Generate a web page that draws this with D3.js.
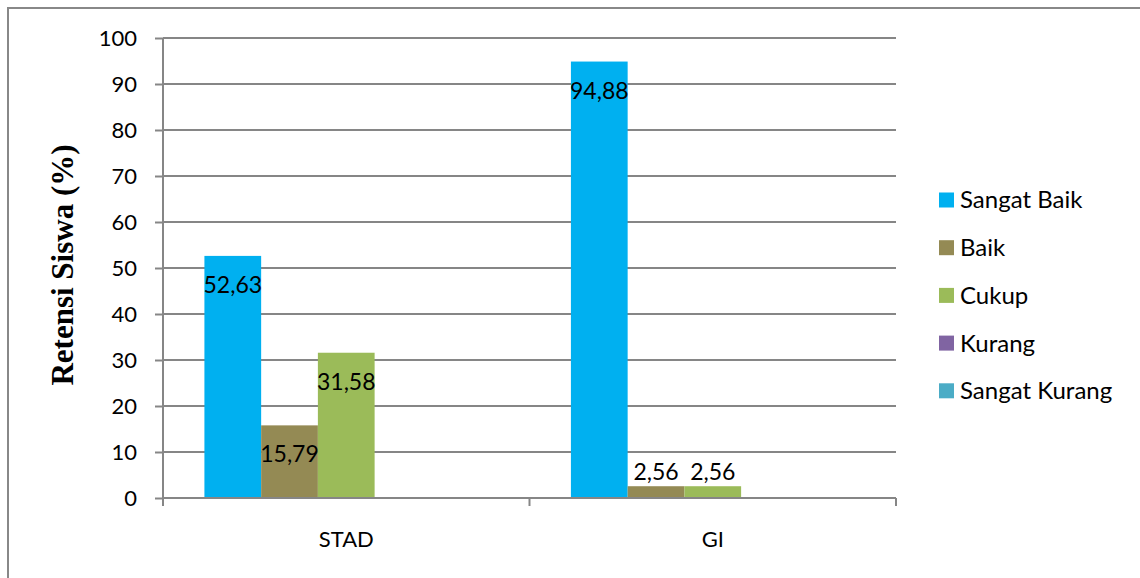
<!DOCTYPE html>
<html>
<head>
<meta charset="utf-8">
<style>
  body { margin: 0; background: #fff; }
  text { font-family: Lato, "Noto Sans", sans-serif; fill: #000; }
</style>
</head>
<body>
<script src="https://cdn.jsdelivr.net/npm/d3@7/dist/d3.min.js"></script>
<script>
// data
var groups = ["STAD", "GI"];
var series = ["Sangat Baik", "Baik", "Cukup", "Kurang", "Sangat Kurang"];
var colors = ["#00B0F0", "#948A54", "#9BBB59", "#8064A2", "#4BACC6"];
var stadValues = [52.63, 15.79, 31.58, 0, 0];
var giValues = [94.88, 2.56, 2.56, 0, 0];
var yTicks = [0, 10, 20, 30, 40, 50, 60, 70, 80, 90, 100];

var width = 1140, height = 578;
var svg = d3.select("body").append("svg")
    .attr("width", width)
    .attr("height", height);

// outer frame (cut off at right and bottom like the picture)
svg.append("rect")
    .attr("x", 8).attr("y", 8)
    .attr("width", width + 10).attr("height", height + 10)
    .attr("fill", "none")
    .attr("stroke", "#888")
    .attr("stroke-width", 2);

var pLeft = 163, pRight = 896, pTop = 38, pBottom = 498;

var x0 = d3.scaleBand().domain(groups).range([pLeft, pRight]).paddingInner(0).paddingOuter(0);
var x1 = d3.scaleBand().domain(series).padding(0);
var y = d3.scaleLinear().domain([0, 100]).range([pBottom, pTop]);

// group width: gap of ~146% of one bar
var gap = x0.bandwidth() - x0.bandwidth() / (5 + 1.46) * 5;
x1.range([gap / 2, x0.bandwidth() - gap / 2]);

// gridlines
svg.append("g").selectAll("line")
    .data(yTicks.filter(d => d > 0))
    .join("line")
    .attr("x1", pLeft).attr("x2", pRight)
    .attr("y1", d => y(d)).attr("y2", d => y(d))
    .attr("stroke", "#868686")
    .attr("stroke-width", 2);

// y axis
var yAxis = svg.append("g")
    .attr("transform", "translate(" + pLeft + ",0)")
    .call(d3.axisLeft(y).tickValues(yTicks).tickSize(8).tickPadding(18));
yAxis.select(".domain").attr("stroke", "#868686").attr("stroke-width", 2)
    .attr("d", "M0," + (pBottom + 8) + "V" + pTop);
yAxis.selectAll(".tick line").attr("stroke", "#868686").attr("stroke-width", 2);
yAxis.selectAll(".tick text").style("font-family", "Lato, sans-serif").style("font-size", "22px").attr("fill", "#000");

// bars
var rows = groups.map((g, i) => ({ group: g, values: i === 0 ? stadValues : giValues }));
var gBars = svg.append("g").selectAll("g")
    .data(rows)
    .join("g")
    .attr("transform", d => "translate(" + x0(d.group) + ",0)");

gBars.selectAll("rect")
    .data(d => d.values.map((v, j) => ({ key: series[j], value: v, color: colors[j] })))
    .join("rect")
    .attr("x", d => x1(d.key))
    .attr("width", x1.bandwidth())
    .attr("y", d => y(d.value))
    .attr("height", d => pBottom - y(d.value))
    .attr("fill", d => d.color);

// data labels
gBars.selectAll("text")
    .data(d => d.values.map((v, j) => ({ key: series[j], value: v })).filter(d => d.value > 0))
    .join("text")
    .attr("x", d => x1(d.key) + x1.bandwidth() / 2)
    .attr("y", d => (pBottom - y(d.value) > 40 ? y(d.value) + 29 : y(d.value) - 14))
    .attr("dy", "0.35em")
    .attr("text-anchor", "middle")
    .style("font-size", "23px")
    .text(d => d3.format(".2f")(d.value).replace(".", ","));

// x axis
var xAxis = svg.append("g")
    .attr("transform", "translate(0," + pBottom + ")")
    .call(d3.axisBottom(x0).tickSize(0).tickPadding(33));
xAxis.select(".domain").attr("stroke", "#868686").attr("stroke-width", 2)
    .attr("d", "M" + pLeft + ",0H" + pRight);
xAxis.selectAll(".tick text").style("font-family", "Lato, sans-serif").style("font-size", "22px").attr("fill", "#000");
// category separators
svg.append("g").selectAll("line")
    .data([pLeft, pLeft + x0.bandwidth(), pRight])
    .join("line")
    .attr("x1", d => d).attr("x2", d => d)
    .attr("y1", pBottom).attr("y2", pBottom + 8)
    .attr("stroke", "#868686")
    .attr("stroke-width", 2);

// y title
svg.append("text")
    .attr("transform", "translate(73," + ((pTop + pBottom) / 2 - 3) + ") rotate(-90)")
    .attr("text-anchor", "middle")
    .style("font-family", "'Liberation Serif', 'Times New Roman', serif")
    .style("font-weight", "bold")
    .style("font-size", "31px")
    .text("Retensi Siswa (%)");

// legend
var legend = svg.append("g").selectAll("g")
    .data(series)
    .join("g")
    .attr("transform", (d, i) => "translate(939," + (200 + i * 47.7) + ")");
legend.append("rect")
    .attr("x", 0).attr("y", -7.5)
    .attr("width", 15).attr("height", 15)
    .attr("fill", (d, i) => colors[i]);
legend.append("text")
    .attr("x", 21).attr("dy", "0.35em")
    .style("font-size", "24px")
    .text(d => d);
</script>
</body>
</html>
